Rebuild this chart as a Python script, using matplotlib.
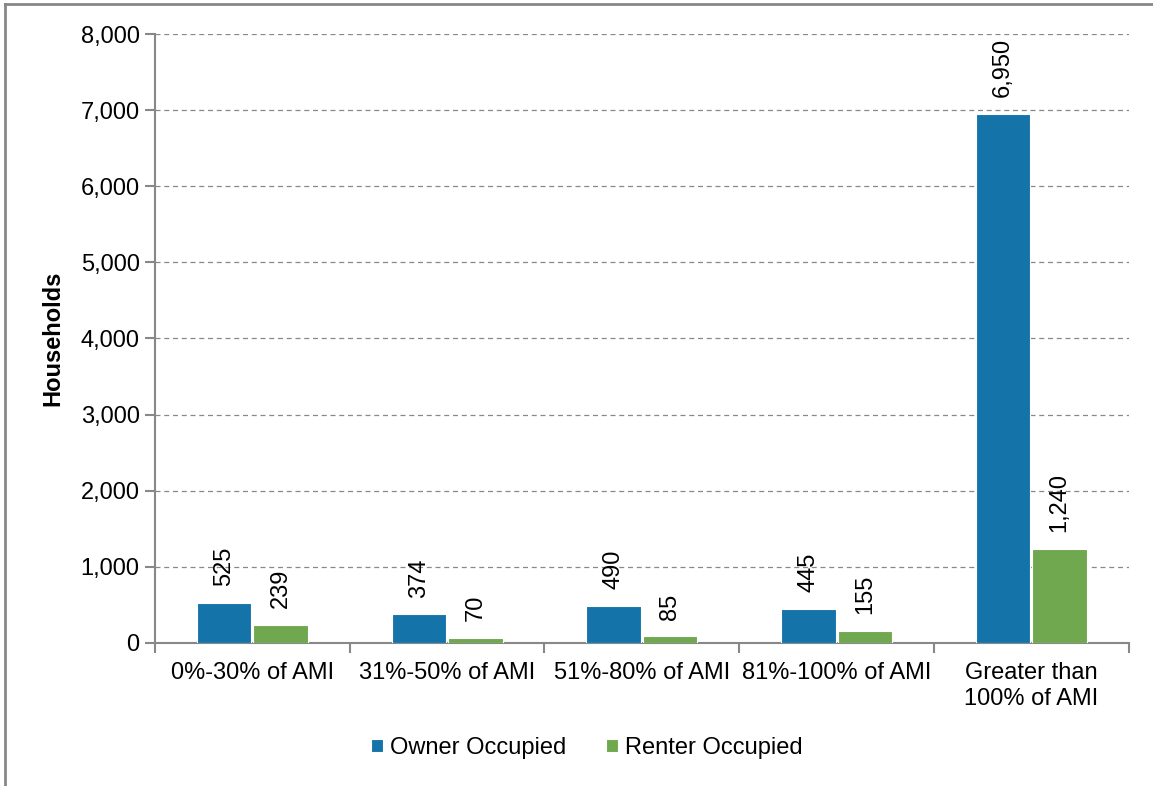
import numpy as np
import matplotlib.pyplot as plt
from matplotlib.lines import Line2D
from matplotlib.ticker import FuncFormatter

plt.rcParams['font.family'] = ['Liberation Sans', 'DejaVu Sans']

categories = ['0%-30% of AMI', '31%-50% of AMI', '51%-80% of AMI',
              '81%-100% of AMI', 'Greater than\n100% of AMI']
owner = [525, 374, 490, 445, 6950]
renter = [239, 70, 85, 155, 1240]

BLUE = '#1473A9'
GREEN = '#6FA84F'
GREY = '#888888'
FS = 17

fig = plt.figure(figsize=(11.53, 7.86), dpi=100)
ax = fig.add_axes([0.1344, 0.182, 0.8446, 0.7747])

x = np.arange(len(categories))
w = 0.28
b1 = ax.bar(x - w / 2 - 0.005, owner, w, color=BLUE, edgecolor='white', linewidth=0.8,
            label='Owner Occupied', zorder=3)
b2 = ax.bar(x + w / 2 + 0.005, renter, w, color=GREEN, edgecolor='white', linewidth=0.8,
            label='Renter Occupied', zorder=3)

for bars, vals in [(b1, owner), (b2, renter)]:
    for r, v in zip(bars, vals):
        ax.annotate(f'{v:,}', (r.get_x() + r.get_width() / 2, v),
                    xytext=(0, 12), textcoords='offset points',
                    ha='center', va='bottom', rotation=90, fontsize=FS)

ax.set_xlim(-0.5, len(categories) - 0.5)
ax.set_ylim(0, 8000)
ax.set_yticks(np.arange(0, 8001, 1000))
ax.yaxis.set_major_formatter(FuncFormatter(lambda v, p: f'{int(v):,}'))
ax.grid(axis='y', linestyle=(0, (4, 3)), color=GREY, linewidth=0.9, zorder=0)

ax.set_xticks(x)
ax.set_xticklabels(categories, fontsize=FS, linespacing=1.2)
ax.tick_params(axis='x', length=0, pad=14)
ax.set_xticks(np.arange(-0.5, len(categories)), minor=True)
ax.tick_params(axis='x', which='minor', length=7, color=GREY, width=1.5)
ax.tick_params(axis='y', labelsize=FS, length=7, color=GREY, width=1.5, pad=4)

for s in ['top', 'right']:
    ax.spines[s].set_visible(False)
for s in ['left', 'bottom']:
    ax.spines[s].set_color(GREY)
    ax.spines[s].set_linewidth(1.5)

ax.set_ylabel('Households', fontsize=FS, fontweight='bold', labelpad=12)

ax.legend(loc='center', bbox_to_anchor=(0.4435, -0.172), ncol=2, frameon=False,
          fontsize=FS, handlelength=0.5, handleheight=0.5, handletextpad=0.3,
          columnspacing=1.7)

# outer frame lines (left and top)
fig.add_artist(Line2D([5 / 1153, 5 / 1153], [0, 1 - 4 / 786], color=GREY, linewidth=2,
                      transform=fig.transFigure))
fig.add_artist(Line2D([5 / 1153, 1], [1 - 4 / 786, 1 - 4 / 786], color=GREY, linewidth=2,
                      transform=fig.transFigure))

fig.savefig('out.png', dpi=100)
